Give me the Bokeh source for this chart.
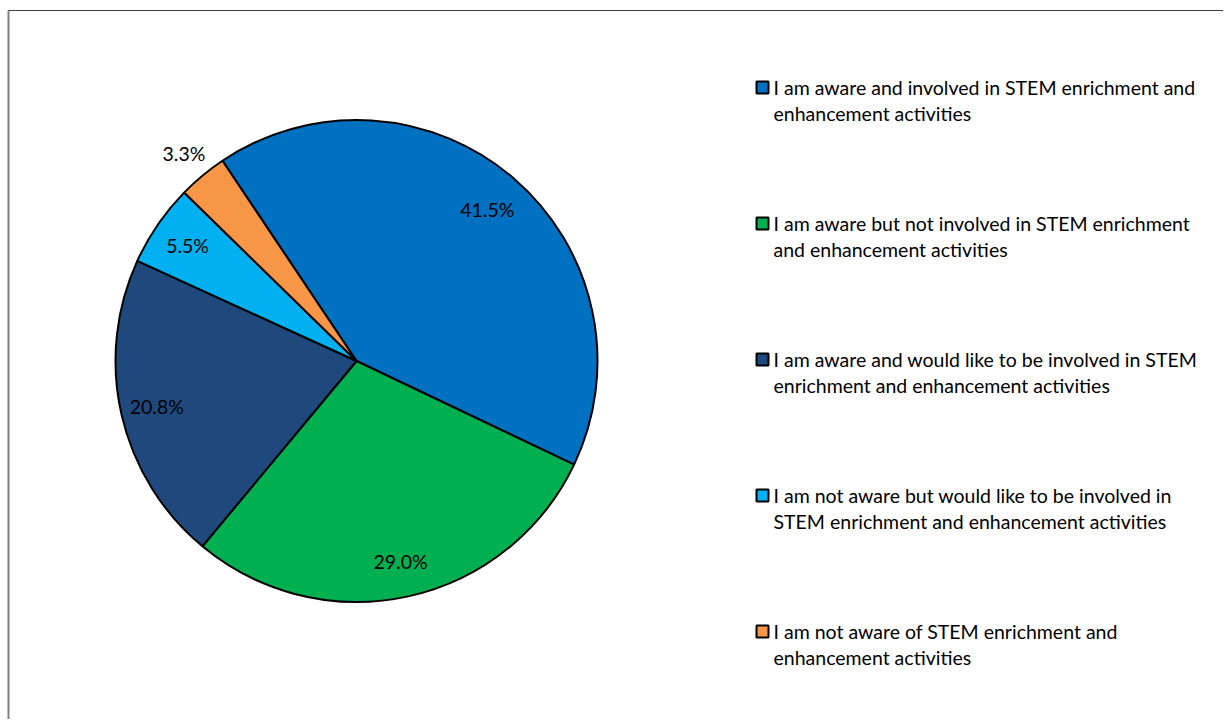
import numpy as np
from bokeh.plotting import figure
from bokeh.models import ColumnDataSource, Range1d
from bokeh.core.properties import value
from bokeh.embed import file_html
from bokeh.resources import INLINE

categories = [
    "I am aware and involved in STEM enrichment and|enhancement activities",
    "I am aware but not involved in STEM enrichment|and enhancement activities",
    "I am aware and would like to be involved in STEM|enrichment and enhancement activities",
    "I am not aware but would like to be involved in|STEM enrichment and enhancement activities",
    "I am not aware of STEM enrichment and|enhancement activities",
]
percents = [41.5, 29.0, 20.8, 5.5, 3.3]
colors = ["#0070C0", "#00B050", "#1F497D", "#00B0F0", "#F79646"]
pct_labels = ["41.5%", "29.0%", "20.8%", "5.5%", "3.3%"]

W, H = 1223, 719
FONT = "Lato"
FS = "19.5px"

p = figure(width=W, height=H, output_backend="svg", toolbar_location=None,
           x_range=Range1d(0, W), y_range=Range1d(0, H), min_border=0)
p.axis.visible = False
p.grid.visible = False
p.outline_line_color = None
p.background_fill_color = "white"

def px(x):
    return x

def py(y):
    return H - y

cx, cy, R = px(356), py(360.5), 241
start0 = np.deg2rad(123.8)
vals = np.array(percents)
frac = vals / vals.sum()
cum = np.concatenate([[0], np.cumsum(frac)[:-1]])
starts = start0 - cum * 2 * np.pi
ends = starts - frac * 2 * np.pi
mids = (starts + ends) / 2

src = ColumnDataSource(dict(start=starts, end=ends, color=colors))
p.wedge(x=cx, y=cy, radius=R, start_angle="start", end_angle="end",
        direction="clock", fill_color="color", line_color="black",
        line_width=2, source=src)

# data labels (inside, last one outside)
rfac = np.array([0.83, 0.85, 0.85, 0.85, 1.12])
lx = cx + rfac * R * np.cos(mids)
ly = cy + rfac * R * np.sin(mids)
p.text(x=lx, y=ly, text=pct_labels, text_align="center", text_baseline="middle",
       text_font=value(FONT), text_font_size=FS, text_color="black")

# legend
lx0 = px(773)
mx = px(762)
for i, (cat, col) in enumerate(zip(categories, colors)):
    y1 = py(87 + 136 * i)
    p.rect(x=[mx], y=[y1], width=12, height=12, fill_color=col,
           line_color="black", line_width=2)
    lines = cat.split("|")
    p.text(x=[lx0, lx0], y=[y1, y1 - 26], text=lines, text_align="left",
           text_baseline="middle", text_font=value(FONT), text_font_size=FS,
           text_color="black")

# chart-area border (left and top visible)
p.segment(x0=[8, 8], y0=[-5, py(10)], x1=[8, W + 5], y1=[py(10), py(10)],
          line_color=["#808080", "#404040"], line_width=[2, 1])

open("out.html", "w").write(file_html(p, INLINE))
